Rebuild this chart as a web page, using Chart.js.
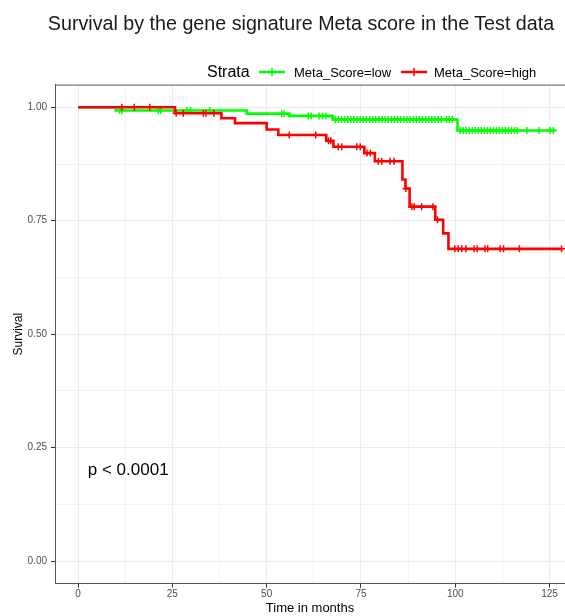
<!DOCTYPE html>
<html><head><meta charset="utf-8">
<script src="https://cdn.jsdelivr.net/npm/chart.js@4.4.1/dist/chart.umd.min.js"></script>
<style>
html,body{margin:0;padding:0;background:#fff;overflow:hidden;}
#wrap{position:relative;width:565px;height:616px;font-family:"Liberation Sans",Arial,sans-serif;}
canvas{position:absolute;left:0;top:0;}
.t{position:absolute;white-space:nowrap;line-height:1;color:#000;}
svg{position:absolute;}
</style></head><body>
<div id="wrap">
<canvas id="c" width="565" height="616"></canvas>
<div class="t" id="title" style="font-size:19.7px;top:14px;left:0;width:602px;text-align:center;color:#1a1a1a">Survival by the gene signature Meta score in the Test data</div>
<div class="t" style="font-size:16px;top:64px;left:207px;">Strata</div>
<svg style="left:259px;top:67px" width="26" height="10"><line x1="0" y1="5" x2="26" y2="5" stroke="#00FF00" stroke-width="2.5"/><line x1="13" y1="1" x2="13" y2="9" stroke="#00FF00" stroke-width="1.6"/></svg>
<div class="t" style="font-size:13px;top:66px;left:294px;">Meta_Score=low</div>
<svg style="left:401px;top:67px" width="26" height="10"><line x1="0" y1="5" x2="26" y2="5" stroke="#FF0000" stroke-width="2.5"/><line x1="13" y1="1" x2="13" y2="9" stroke="#FF0000" stroke-width="1.6"/></svg>
<div class="t" style="font-size:13px;top:66px;left:434px;">Meta_Score=high</div>
</div>
<script>
// ---- data ----
const xTickLabels = [0, 25, 50, 75, 100, 125];
const yTickLabels = [0, 0.25, 0.5, 0.75, 1];

// Meta_Score=low (green): step times and survival after each step
const lowTime = [0, 10, 44.7, 56, 67.5, 100.6, 126.6];
const lowSurv = [1, 0.993, 0.986, 0.981, 0.973, 0.949, 0.949];
const lowCensor = [11, 11.6, 21.3, 21.9, 28.8, 29.9, 35, 54, 54.6, 61, 61.8, 63.9, 64.8, 65.7,
  68.2, 69.0, 69.8, 70.7, 71.5, 72.3, 73.1, 74.0, 74.8, 75.6, 76.4, 77.3, 78.1, 78.9, 79.8,
  80.6, 81.4, 82.2, 83.1, 83.9, 84.7, 85.5, 86.4, 87.2, 88.0, 88.9, 89.7, 90.5, 91.3, 92.2,
  93.0, 93.8, 94.6, 95.5, 96.3, 97.7, 98.4, 99.2,
  101.3, 102.1, 102.9, 103.7, 104.5, 105.3, 106.1, 106.9, 107.7, 108.5, 109.3, 110.1, 110.9,
  111.7, 112.5, 113.3, 114.1, 114.9, 115.7, 116.4, 119.0, 122.2, 125.1, 126.0];

// Meta_Score=high (red)
const highTime = [0, 25.7, 38, 41.6, 50, 53.1, 65.8, 67.7, 75.9, 78.7, 86, 86.8, 87.9, 94.7, 96.8, 98.2, 128.3];
const highSurv = [1, 0.987, 0.976, 0.965, 0.951, 0.939, 0.926, 0.913, 0.899, 0.881, 0.841, 0.821, 0.781, 0.752, 0.722, 0.688, 0.688];
const highCensor = [11.6, 14.9, 19.0, 26.0, 27.9, 33.2, 33.9, 36.0, 56, 63, 66.4, 67.0, 69.0, 69.9,
  73.9, 74.8, 76.6, 77.5, 79.6, 80.5, 82.7, 83.8, 86.9, 88.5, 89.1, 91.1, 94.1, 95.3,
  99.9, 100.8, 101.7, 102.8, 105.0, 105.8, 107.9, 108.6, 111.9, 112.8, 117.0, 128.2];

const pText = 'p < 0.0001';
const pPos = {x: 2.57, y: 0.2};

// ---- helpers ----
function stepAt(times, surv, t) {
  let s = surv[0];
  for (let i = 0; i < times.length; i++) if (times[i] <= t) s = surv[i];
  return s;
}
const curve = (times, surv) => times.map((t, i) => ({x: t, y: surv[i]}));
const marks = (times, surv, cens) => cens.map(t => ({x: t, y: stepAt(times, surv, t)}));
const GREEN = '#00FF00', RED = '#FF0000';
const isMajorX = v => xTickLabels.some(l => Math.abs(l - v) < 1e-6);
const isMajorY = v => yTickLabels.some(l => Math.abs(l - v) < 1e-6);

const panelPlugin = {
  id: 'panel',
  afterDraw(chart) {
    const {ctx, chartArea: a} = chart;
    ctx.save();
    ctx.strokeStyle = '#555';
    ctx.lineWidth = 1;
    ctx.beginPath();
    ctx.moveTo(a.left, a.top + 0.5);
    ctx.lineTo(a.right, a.top + 0.5);
    ctx.stroke();
    ctx.restore();
  },
  afterDatasetsDraw(chart) {
    const {ctx, scales} = chart;
    ctx.save();
    ctx.fillStyle = '#000';
    ctx.font = '17px "Liberation Sans", Arial, sans-serif';
    ctx.textAlign = 'left';
    ctx.textBaseline = 'middle';
    ctx.fillText(pText, scales.x.getPixelForValue(pPos.x), scales.y.getPixelForValue(pPos.y));
    ctx.restore();
  }
};

Chart.defaults.font.family = '"Liberation Sans", Arial, sans-serif';

new Chart(document.getElementById('c'), {
  type: 'line',
  data: {
    datasets: [
      {label: 'high censor', data: marks(highTime, highSurv, highCensor), showLine: false,
       pointStyle: 'cross', pointRadius: 3.5, pointBorderWidth: 1.5, borderColor: RED, backgroundColor: RED},
      {label: 'Meta_Score=high', data: curve(highTime, highSurv), stepped: 'before',
       borderColor: RED, borderWidth: 2.6, pointRadius: 0, fill: false},
      {label: 'low censor', data: marks(lowTime, lowSurv, lowCensor), showLine: false,
       pointStyle: 'cross', pointRadius: 3.5, pointBorderWidth: 1.5, borderColor: GREEN, backgroundColor: GREEN},
      {label: 'Meta_Score=low', data: curve(lowTime, lowSurv), stepped: 'before',
       borderColor: GREEN, borderWidth: 2.6, pointRadius: 0, fill: false}
    ]
  },
  options: {
    responsive: false,
    animation: false,
    devicePixelRatio: 1,
    layout: {autoPadding: false, padding: {top: 84.6, left: 0, right: 0, bottom: 0}},
    plugins: {legend: {display: false}, tooltip: {enabled: false}, title: {display: false}},
    scales: {
      x: {
        type: 'linear', min: -6.12, max: 129.1,
        afterFit: s => { s.height = 32.3; s.paddingLeft = 0; s.paddingRight = 0; },
        ticks: {stepSize: 12.5, includeBounds: false, maxTicksLimit: 100, autoSkip: false, maxRotation: 0,
          color: '#4d4d4d', font: {size: 10}, padding: 1,
          callback: v => isMajorX(v) ? String(v) : ''},
        grid: {color: '#ebebeb', lineWidth: c => (c.tick && isMajorX(c.tick.value)) ? 1 : 0.6,
          tickColor: c => (c.tick && isMajorX(c.tick.value)) ? '#333' : 'rgba(0,0,0,0)', tickLength: 4},
        border: {display: true, color: '#555', width: 1},
        title: {display: true, text: 'Time in months', color: '#000', font: {size: 13}, padding: {top: 0, bottom: 0}}
      },
      y: {
        type: 'linear', min: -0.05, max: 1.05,
        afterFit: s => { s.width = 55; s.paddingTop = 0; s.paddingBottom = 0; },
        ticks: {stepSize: 0.125, includeBounds: false, maxTicksLimit: 100, autoSkip: false,
          color: '#4d4d4d', font: {size: 10}, padding: 4,
          callback: v => isMajorY(v) ? v.toFixed(2) : ''},
        grid: {color: '#ebebeb', lineWidth: c => (c.tick && isMajorY(c.tick.value)) ? 1 : 0.6,
          tickColor: c => (c.tick && isMajorY(c.tick.value)) ? '#333' : 'rgba(0,0,0,0)', tickLength: 4},
        border: {display: true, color: '#555', width: 1},
        title: {display: true, text: 'Survival', color: '#000', font: {size: 12}, padding: {top: 11, bottom: 0}}
      }
    }
  },
  plugins: [panelPlugin]
});
</script>
</body></html>
